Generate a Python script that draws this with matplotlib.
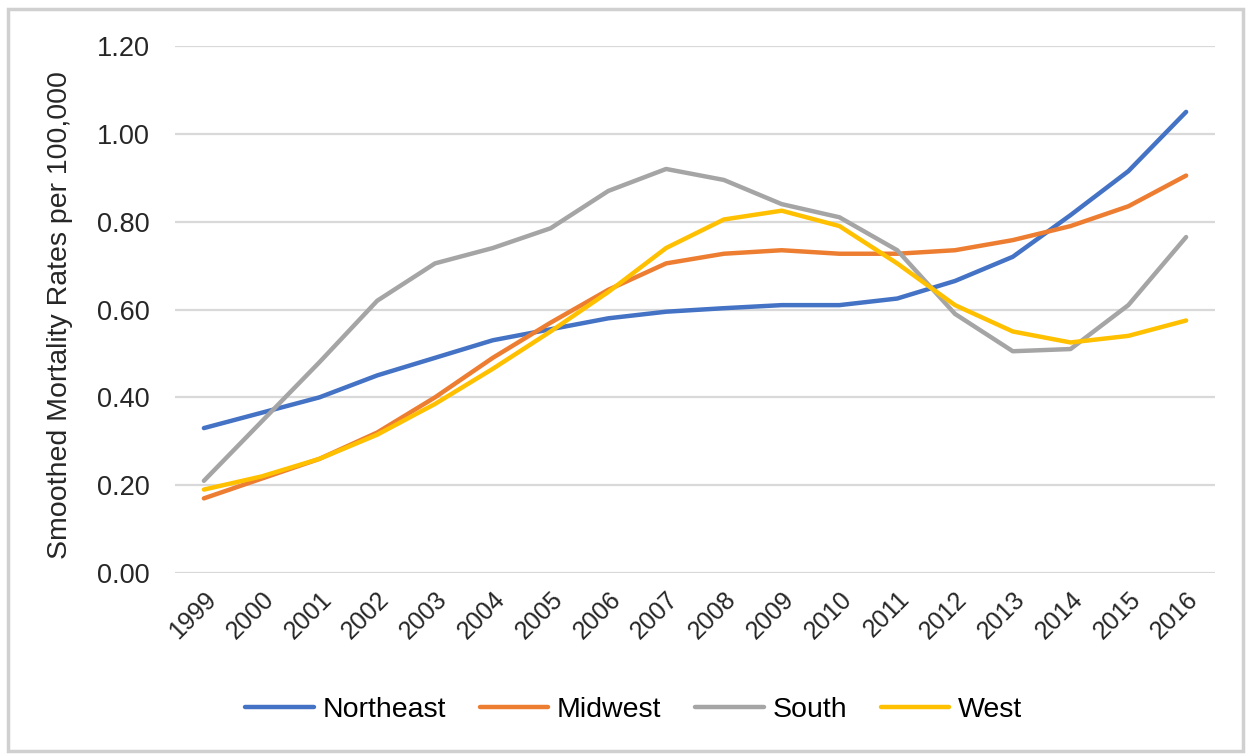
import matplotlib

matplotlib.use("Agg")
import matplotlib.pyplot as plt
from matplotlib.patches import Rectangle

plt.rcParams["font.family"] = ["Liberation Sans", "DejaVu Sans"]

years = [str(y) for y in range(1999, 2017)]
northeast = [0.33, 0.365, 0.40, 0.45, 0.49, 0.53, 0.555, 0.58, 0.595, 0.603,
             0.61, 0.61, 0.625, 0.665, 0.72, 0.815, 0.915, 1.05]
midwest = [0.17, 0.215, 0.26, 0.32, 0.40, 0.49, 0.57, 0.645, 0.705, 0.727,
           0.735, 0.727, 0.727, 0.735, 0.758, 0.79, 0.835, 0.905]
south = [0.21, 0.345, 0.48, 0.62, 0.705, 0.74, 0.785, 0.87, 0.92, 0.895,
         0.84, 0.81, 0.735, 0.59, 0.505, 0.51, 0.61, 0.765]
west = [0.19, 0.22, 0.26, 0.315, 0.385, 0.465, 0.55, 0.64, 0.74, 0.805,
        0.825, 0.79, 0.705, 0.61, 0.55, 0.525, 0.54, 0.575]

series = [("Northeast", northeast, "#4472C4"),
          ("Midwest", midwest, "#ED7D31"),
          ("South", south, "#A5A5A5"),
          ("West", west, "#FFC000")]
y_ticks = [0.0, 0.2, 0.4, 0.6, 0.8, 1.0, 1.2]

fig = plt.figure(figsize=(12.5, 7.54), dpi=100)
fig.patches.append(Rectangle((0.006, 0.004), 0.988, 0.984, transform=fig.transFigure,
                             fill=False, edgecolor="#D0D0D0", linewidth=2.5))
ax = fig.add_axes([0.14, 0.240, 0.832, 0.699])

x = list(range(len(years)))
for name, vals, color in series:
    ax.plot(x, vals, color=color, linewidth=3.2, label=name, solid_capstyle="round")

ax.set_xlim(-0.5, len(years) - 0.5)
ax.set_ylim(0, 1.2)
ax.set_yticks(y_ticks)
ax.set_yticklabels([f"{v:.2f}" for v in y_ticks], fontsize=19.5, color="#262626")
ax.set_xticks(x)
ax.set_xticklabels(years, rotation=45, ha="right", rotation_mode="anchor",
                   fontsize=18, color="#262626")
ax.tick_params(axis="y", length=0, pad=18)
ax.tick_params(axis="x", length=0, pad=10)
ax.grid(axis="y", color="#D9D9D9", linewidth=1.6)
ax.set_axisbelow(True)
for s in ax.spines.values():
    s.set_visible(False)
ax.set_ylabel("Smoothed Mortality Rates per 100,000", fontsize=20.5, color="#262626")
ax.yaxis.set_label_coords(-0.098, 0.49)

fig.legend(loc="center", bbox_to_anchor=(0.507, 0.058), ncol=4, frameon=False,
           fontsize=20.5, handlelength=2.4, columnspacing=1.2, handletextpad=0.3)

fig.savefig("out.png", dpi=100, facecolor="white")
